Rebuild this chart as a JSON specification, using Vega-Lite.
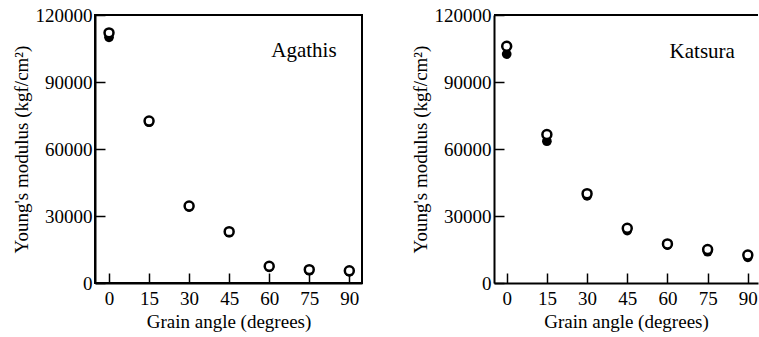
{
  "$schema": "https://vega.github.io/schema/vega-lite/v6.json",
  "padding": {"left": 11, "top": 5, "right": 0, "bottom": 0},
  "background": "white",
  "config": {
    "font": "Liberation Serif",
    "view": {"stroke": "black", "strokeWidth": 2},
    "axis": {
      "labelFont": "Liberation Serif", "titleFont": "Liberation Serif",
      "labelFontSize": 19, "titleFontSize": 19, "titleFontWeight": "normal",
      "labelColor": "black", "titleColor": "black",
      "domainColor": "black", "tickColor": "black",
      "domainWidth": 2, "tickWidth": 1.5, "grid": false, "tickSize": -10
    }
  },
  "datasets": {
    "agathis": [
      {"angle": 0, "modulus": 110000, "kind": "filled"},
      {"angle": 15, "modulus": 72000, "kind": "filled"},
      {"angle": 30, "modulus": 34000, "kind": "filled"},
      {"angle": 45, "modulus": 22500, "kind": "filled"},
      {"angle": 60, "modulus": 7000, "kind": "filled"},
      {"angle": 75, "modulus": 5500, "kind": "filled"},
      {"angle": 90, "modulus": 5000, "kind": "filled"},
      {"angle": 0, "modulus": 112000, "kind": "open"},
      {"angle": 15, "modulus": 72500, "kind": "open"},
      {"angle": 30, "modulus": 34500, "kind": "open"},
      {"angle": 45, "modulus": 23000, "kind": "open"},
      {"angle": 60, "modulus": 7500, "kind": "open"},
      {"angle": 75, "modulus": 6000, "kind": "open"},
      {"angle": 90, "modulus": 5500, "kind": "open"}
    ],
    "katsura": [
      {"angle": 0, "modulus": 102500, "kind": "filled"},
      {"angle": 15, "modulus": 63500, "kind": "filled"},
      {"angle": 30, "modulus": 39000, "kind": "filled"},
      {"angle": 45, "modulus": 23500, "kind": "filled"},
      {"angle": 60, "modulus": 17000, "kind": "filled"},
      {"angle": 75, "modulus": 14000, "kind": "filled"},
      {"angle": 90, "modulus": 11500, "kind": "filled"},
      {"angle": 0, "modulus": 106000, "kind": "open"},
      {"angle": 15, "modulus": 66500, "kind": "open"},
      {"angle": 30, "modulus": 40000, "kind": "open"},
      {"angle": 45, "modulus": 24500, "kind": "open"},
      {"angle": 60, "modulus": 17500, "kind": "open"},
      {"angle": 75, "modulus": 15000, "kind": "open"},
      {"angle": 90, "modulus": 12500, "kind": "open"}
    ],
    "labelA": [{"angle": 73, "modulus": 104000, "name": "Agathis"}],
    "labelK": [{"angle": 73, "modulus": 103500, "name": "Katsura"}],
    "top": [{"modulus": 120000}]
  },
  "spacing": 48,
  "hconcat": [
    {
      "width": 267, "height": 268,
      "encoding": {
        "x": {"field": "angle", "type": "quantitative",
          "scale": {"domain": [-5.25, 94.75], "nice": false, "zero": false},
          "axis": {"values": [0, 15, 30, 45, 60, 75, 90], "title": "Grain angle (degrees)", "labelPadding": 16, "titlePadding": 4}},
        "y": {"field": "modulus", "type": "quantitative",
          "scale": {"domain": [0, 120000], "nice": false},
          "axis": {"values": [0, 30000, 60000, 90000, 120000], "format": "d", "title": "Young's modulus (kgf/cm²)", "labelPadding": 13, "titlePadding": 4}}
      },
      "layer": [
        {"data": {"name": "agathis"}, "transform": [{"filter": "datum.kind == 'filled'"}],
         "mark": {"type": "point", "shape": "circle", "filled": true, "color": "black", "size": 95, "opacity": 1}},
        {"data": {"name": "agathis"}, "transform": [{"filter": "datum.kind == 'open'"}],
         "mark": {"type": "point", "shape": "circle", "filled": true, "fill": "white", "stroke": "black", "strokeWidth": 2.5, "size": 80, "opacity": 1}},
        {"data": {"name": "labelA"},
         "mark": {"type": "text", "font": "Liberation Serif", "fontSize": 21, "color": "black", "align": "center", "baseline": "middle"},
         "encoding": {"text": {"field": "name"}}}
      ]
    },
    {
      "width": 264, "height": 268,
      "view": {"stroke": null},
      "encoding": {
        "x": {"field": "angle", "type": "quantitative",
          "scale": {"domain": [-4.74, 93.8], "nice": false, "zero": false},
          "axis": {"values": [0, 15, 30, 45, 60, 75, 90], "title": "Grain angle (degrees)", "labelPadding": 16, "titlePadding": 4}},
        "y": {"field": "modulus", "type": "quantitative",
          "scale": {"domain": [0, 120000], "nice": false},
          "axis": {"values": [0, 30000, 60000, 90000, 120000], "format": "d", "title": "Young's modulus (kgf/cm²)", "labelPadding": 13, "titlePadding": 4}}
      },
      "layer": [
        {"data": {"name": "top"}, "mark": {"type": "rule", "color": "black", "strokeWidth": 2},
         "encoding": {"x": null, "y": {"field": "modulus", "type": "quantitative"}}},
        {"data": {"name": "katsura"}, "transform": [{"filter": "datum.kind == 'filled'"}],
         "mark": {"type": "point", "shape": "circle", "filled": true, "color": "black", "size": 95, "opacity": 1}},
        {"data": {"name": "katsura"}, "transform": [{"filter": "datum.kind == 'open'"}],
         "mark": {"type": "point", "shape": "circle", "filled": true, "fill": "white", "stroke": "black", "strokeWidth": 2.5, "size": 80, "opacity": 1}},
        {"data": {"name": "labelK"},
         "mark": {"type": "text", "font": "Liberation Serif", "fontSize": 21, "color": "black", "align": "center", "baseline": "middle"},
         "encoding": {"text": {"field": "name"}}}
      ]
    }
  ]
}
